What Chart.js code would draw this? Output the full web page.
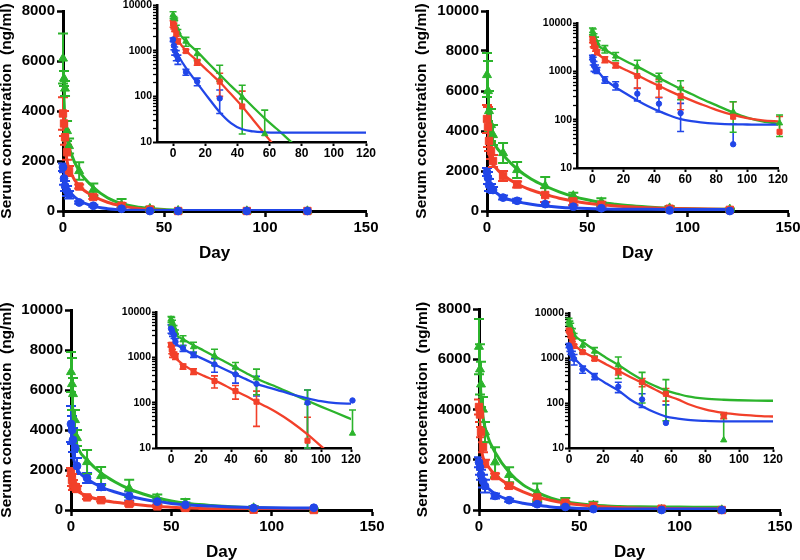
<!DOCTYPE html>
<html><head><meta charset="utf-8">
<script src="https://cdn.jsdelivr.net/npm/chart.js@4/dist/chart.umd.min.js"></script>
<style>
html,body{margin:0;padding:0;background:#fff;overflow:hidden;width:800px;height:560px;position:relative}
canvas{position:absolute}
</style></head><body>
<script>
// ---------- data ----------
const days = [0, 0.5, 1, 2, 3, 8, 15, 29, 43, 57, 91, 121];
const curveDays = [0, 1, 2, 4, 8, 15, 22, 29, 36, 43, 50, 57, 64, 70, 80, 91, 100, 110, 121];

const mainXTicks = [0, 50, 100, 150];
const p1YTicks = [0, 2000, 4000, 6000, 8000];
const p2YTicks = [0, 2000, 4000, 6000, 8000, 10000];
const p3YTicks = [0, 2000, 4000, 6000, 8000, 10000];
const p4YTicks = [0, 2000, 4000, 6000, 8000];
const insetXTicks = [0, 20, 40, 60, 80, 100, 120];
const logMajorTicks = [10, 100, 1000, 10000];

// Panel 1 (top-left)
const p1Green    = [6100, 5300, 4900, 3200, 2600, 1600, 850, 230, 95, 15, 0, 0];
const p1GreenErr = [1000, 300, 300, 400, 300, 350, 250, 250, 80, 35, 0, 0];
const p1Red      = [3900, 3500, 2950, 2350, 1600, 980, 560, 210, 60, 0, 0, 0];
const p1RedErr   = [650, 500, 300, 300, 200, 80, 80, 110, 70, 0, 0, 0];
const p1Blue     = [1750, 1300, 1000, 800, 650, 340, 210, 90, 0, 0, 0, 0];
const p1BlueErr  = [150, 250, 200, 200, 150, 50, 40, 48, 0, 0, 0, 0];
const p1GreenFit = [5500, 3600, 2900, 2300, 1600, 950, 530, 300, 170, 100, 57, 33, 20, 13, 6, 2.4, 1.2, 0.6, 0.25];
const p1RedFit   = [4000, 2700, 2000, 1500, 1000, 600, 350, 206, 112, 60, 30, 15, 7.5, 4.5, 2, 0.8, 0.4, 0.2, 0.1];
const p1BlueFit  = [1750, 1200, 950, 700, 420, 195, 92, 45, 26, 19, 17, 16.3, 16, 16, 16, 16, 16, 16, 16];

// Panel 2 (top-right)
const p2Green    = [6800, 6000, 5000, 4300, 3800, 2900, 2050, 1250, 760, 450, 145, 85];
const p2GreenErr = [1100, 1500, 1000, 800, 500, 500, 400, 450, 150, 190, 90, 40];
const p2Red      = [4600, 4200, 3500, 3000, 2500, 1750, 1330, 800, 480, 310, 115, 56];
const p2RedErr   = [700, 1000, 500, 400, 300, 250, 150, 350, 190, 150, 120, 60];
const p2Blue     = [1950, 1650, 1300, 1150, 1050, 670, 510, 345, 214, 137, 31, 0];
const p2BlueErr  = [200, 300, 300, 200, 150, 100, 100, 100, 70, 80, 50, 0];
const p2GreenFit = [6500, 4500, 3800, 3300, 2800, 2100, 1600, 1250, 960, 730, 560, 430, 340, 275, 200, 140, 110, 92, 82];
const p2RedFit   = [4500, 3000, 2500, 2200, 1800, 1350, 1050, 830, 640, 500, 390, 310, 250, 210, 160, 125, 108, 97, 92];
const p2BlueFit  = [1800, 1200, 1050, 950, 680, 470, 340, 250, 190, 150, 122, 103, 93, 88, 83, 80, 79.5, 79, 79];

// Panel 3 (bottom-left)
const p3Green    = [6900, 6300, 5800, 4500, 3600, 2400, 1700, 1080, 600, 350, 100, 21];
const p3GreenErr = [1000, 1300, 800, 500, 400, 600, 450, 430, 170, 200, 90, 48];
const p3Red      = [1900, 1500, 1250, 1150, 1050, 630, 490, 300, 180, 105, 14.5, 0];
const p3RedErr   = [200, 300, 250, 150, 150, 80, 70, 90, 60, 75, 33, 0];
const p3Blue     = [4300, 4000, 3500, 3100, 2200, 1600, 1150, 700, 420, 260, 100, 112];
const p3BlueErr  = [900, 700, 600, 500, 400, 250, 150, 230, 150, 120, 90, 0];
const p3GreenFit = [6800, 4800, 3700, 3000, 2500, 1850, 1400, 1050, 800, 600, 450, 340, 270, 225, 160, 110, 82, 60, 42];
const p3RedFit   = [1900, 1300, 1100, 900, 700, 500, 390, 310, 240, 180, 140, 105, 80, 62, 38, 20, 11, 5.5, 2.5];
const p3BlueFit  = [4300, 2800, 2300, 1900, 1550, 1150, 900, 700, 540, 420, 330, 260, 220, 195, 155, 125, 108, 98, 95];

// Panel 4 (bottom-right)
const p4Green    = [6500, 5600, 5000, 4000, 3100, 1900, 1400, 700, 290, 185, 15, 0];
const p4GreenErr = [1100, 1000, 900, 500, 400, 600, 300, 350, 190, 145, 40, 0];
const p4Red      = [4100, 3800, 3100, 2500, 1850, 1350, 960, 500, 290, 160, 53, 0];
const p4RedErr   = [300, 300, 200, 200, 150, 100, 80, 80, 60, 50, 8, 0];
const p4Blue     = [1900, 1700, 1400, 1150, 950, 560, 390, 230, 120, 36, 0, 0];
const p4BlueErr  = [200, 300, 200, 250, 250, 100, 60, 60, 40, 55, 0, 0];
const p4GreenFit = [6500, 4500, 3700, 3000, 2300, 1500, 1000, 700, 470, 330, 245, 190, 160, 140, 125, 118, 115, 113, 112];
const p4RedFit   = [4200, 2600, 2100, 1800, 1400, 1000, 720, 520, 380, 280, 205, 150, 120, 95, 72, 60, 55, 52, 50];
const p4BlueFit  = [1900, 1200, 1050, 900, 650, 400, 270, 190, 120, 85, 63, 50, 45, 42, 40, 39, 39, 39, 39];

// ---------- style ----------
const FONT = "'Liberation Sans', Arial, Helvetica, sans-serif";
const GREEN = '#2cb42c', RED = '#f2402a', BLUE = '#2146e8';
const yTitle = 'Serum concentration  (ng/ml)';
const xTitle = 'Day';

const errorBars = {
  id: 'errorBars',
  beforeDatasetsDraw(chart, args, opts) {
    const ctx = chart.ctx, xs = chart.scales.x, ys = chart.scales.y;
    const isLog = ys.type === 'logarithmic';
    chart.data.datasets.forEach(ds => {
      if (!ds.errors) return;
      ctx.save();
      ctx.strokeStyle = ds.borderColor; ctx.lineWidth = opts.width;
      ds.data.forEach((p, j) => {
        const e = ds.errors[j];
        if (p.y == null || !e) return;
        const px = xs.getPixelForValue(p.x);
        const py = ys.getPixelForValue(p.y);
        const top = ys.getPixelForValue(Math.min(p.y + e, ys.max));
        let lo = p.y - e, bottom = null, capLo = true;
        if (!isLog || lo > 0) {
          if (lo < ys.min) { lo = ys.min; capLo = false; }
          bottom = ys.getPixelForValue(lo);
        }
        const h = opts.cap / 2;
        ctx.beginPath();
        ctx.moveTo(px, top); ctx.lineTo(px, bottom == null ? py : bottom);
        ctx.moveTo(px - h, top); ctx.lineTo(px + h, top);
        if (bottom != null && capLo) { ctx.moveTo(px - h, bottom); ctx.lineTo(px + h, bottom); }
        ctx.stroke();
      });
      ctx.restore();
    });
  }
};

function makeCanvas(box) {
  const c = document.createElement('canvas');
  c.width = box[2]; c.height = box[3];
  c.style.left = box[0] + 'px'; c.style.top = box[1] + 'px';
  c.style.width = box[2] + 'px'; c.style.height = box[3] + 'px';
  document.body.appendChild(c);
  return c;
}

function pts(xs, ys, log) {
  return xs.map((x, i) => ({ x: x, y: (log && !(ys[i] > 0)) ? null : ys[i] }));
}

function makeDatasets(s, log) {
  const rC = log ? 2.7 : 3.9, rR = log ? 3.6 : 5.2, rT = log ? 3.6 : 5.2;
  const mk = (vals, err, color, style, r, order) => ({
    data: pts(days, vals, log), errors: err, borderColor: color, backgroundColor: color,
    pointStyle: style, pointRadius: r, pointBorderWidth: 1, showLine: false, clip: false, order: order
  });
  const fit = (vals, color, order) => ({
    data: pts(curveDays, vals, false), borderColor: color, backgroundColor: color,
    borderWidth: log ? 2.3 : 3, pointRadius: 0, showLine: true,
    cubicInterpolationMode: 'monotone', order: order
  });
  return [
    mk(s.blue, s.blueErr, BLUE, 'circle', rC, 1),
    mk(s.red, s.redErr, RED, 'rect', rR, 2),
    mk(s.green, s.greenErr, GREEN, 'triangle', rT, 3),
    fit(s.blueFit, BLUE, 4),
    fit(s.redFit, RED, 5),
    fit(s.greenFit, GREEN, 6)
  ];
}

function buildMain(box, area, yMax, yTicks, s, yTitleX, xTitleY) {
  const [bx, by, bw, bh] = box, [l, t, r, b] = area;
  const yW = l - bx, xH = by + bh - b;
  const tickFont = { family: FONT, weight: 'bold', size: 15 };
  new Chart(makeCanvas(box), {
    type: 'scatter',
    data: { datasets: makeDatasets(s, false) },
    options: {
      responsive: false, animation: false, devicePixelRatio: 1,
      layout: { padding: { left: 0, top: t - by, right: bx + bw - r, bottom: 0 } },
      plugins: { legend: { display: false }, tooltip: { enabled: false }, errorBars: { width: 2, cap: 10 } },
      scales: {
        x: {
          type: 'linear', min: 0, max: 150,
          afterBuildTicks: a => { a.ticks = mainXTicks.map(v => ({ value: v })); },
          afterFit: a => { a.height = xH; },
          border: { display: true, color: '#000', width: 3 },
          grid: { drawOnChartArea: false, drawTicks: true, tickLength: 6, tickWidth: 2.5, tickColor: '#000' },
          ticks: { font: tickFont, color: '#000', padding: 2, maxRotation: 0, autoSkip: false, callback: v => String(v) },
          title: { display: true, text: xTitle, color: '#000',
                   font: { family: FONT, weight: 'bold', size: 17, lineHeight: 1 },
                   padding: { top: 0, bottom: (by + bh - xTitleY) - 8.5 } }
        },
        y: {
          type: 'linear', min: 0, max: yMax,
          afterBuildTicks: a => { a.ticks = yTicks.map(v => ({ value: v })); },
          afterFit: a => { a.width = yW; },
          border: { display: true, color: '#000', width: 3 },
          grid: { drawOnChartArea: false, drawTicks: true, tickLength: 6, tickWidth: 2.5, tickColor: '#000' },
          ticks: { font: tickFont, color: '#000', padding: 2, autoSkip: false, callback: v => String(v) },
          title: { display: true, text: yTitle, color: '#000',
                   font: { family: FONT, weight: 'bold', size: 15.5, lineHeight: 1 },
                   padding: { top: (yTitleX - bx) - 7.75, bottom: 0 } }
        }
      }
    },
    plugins: [errorBars]
  });
}

function buildInset(box, area, xMin, s) {
  const [bx, by, bw, bh] = box, [l, t, r, b] = area;
  const yW = l - bx, xH = by + bh - b;
  const allLogTicks = [];
  for (let i = 0; i < logMajorTicks.length; i++) {
    allLogTicks.push(logMajorTicks[i]);
    if (i < logMajorTicks.length - 1) for (let m = 2; m <= 9; m++) allLogTicks.push(logMajorTicks[i] * m);
  }
  new Chart(makeCanvas(box), {
    type: 'scatter',
    data: { datasets: makeDatasets(s, true) },
    options: {
      responsive: false, animation: false, devicePixelRatio: 1,
      layout: { padding: { left: 0, top: t - by, right: bx + bw - r, bottom: 0 } },
      plugins: { legend: { display: false }, tooltip: { enabled: false }, errorBars: { width: 1.6, cap: 7 } },
      scales: {
        x: {
          type: 'linear', min: xMin, max: 120,
          afterBuildTicks: a => { a.ticks = insetXTicks.map(v => ({ value: v })); },
          afterFit: a => { a.height = xH; },
          border: { display: true, color: '#000', width: 2.5 },
          grid: { drawOnChartArea: false, drawTicks: true, tickLength: 4, tickWidth: 2, tickColor: '#000' },
          ticks: { font: { family: FONT, weight: 'bold', size: 12 }, color: '#000', padding: 0, maxRotation: 0, autoSkip: false, callback: v => String(v) }
        },
        y: {
          type: 'logarithmic', min: 10, max: 10000,
          afterBuildTicks: a => { a.ticks = allLogTicks.map(v => ({ value: v, major: logMajorTicks.includes(v) })); },
          afterFit: a => { a.width = yW; },
          border: { display: true, color: '#000', width: 2.5 },
          grid: { drawOnChartArea: false, drawTicks: true, tickLength: 4, tickColor: '#000',
                  tickWidth: c => (c.tick && logMajorTicks.includes(c.tick.value)) ? 2 : 1.3 },
          ticks: { font: { family: FONT, weight: 'bold', size: 10.5 }, color: '#000', padding: 1, autoSkip: false,
                   callback: v => logMajorTicks.includes(v) ? String(v) : '' }
        }
      }
    },
    plugins: [errorBars]
  });
}

const S1 = { green: p1Green, greenErr: p1GreenErr, red: p1Red, redErr: p1RedErr, blue: p1Blue, blueErr: p1BlueErr, greenFit: p1GreenFit, redFit: p1RedFit, blueFit: p1BlueFit };
const S2 = { green: p2Green, greenErr: p2GreenErr, red: p2Red, redErr: p2RedErr, blue: p2Blue, blueErr: p2BlueErr, greenFit: p2GreenFit, redFit: p2RedFit, blueFit: p2BlueFit };
const S3 = { green: p3Green, greenErr: p3GreenErr, red: p3Red, redErr: p3RedErr, blue: p3Blue, blueErr: p3BlueErr, greenFit: p3GreenFit, redFit: p3RedFit, blueFit: p3BlueFit };
const S4 = { green: p4Green, greenErr: p4GreenErr, red: p4Red, redErr: p4RedErr, blue: p4Blue, blueErr: p4BlueErr, greenFit: p4GreenFit, redFit: p4RedFit, blueFit: p4BlueFit };

buildMain([0, 0, 400, 280], [63, 11, 366, 211], 8000, p1YTicks, S1, 7, 253);
buildMain([400, 0, 420, 280], [487, 10, 788, 211], 10000, p2YTicks, S2, 422, 253);
buildMain([0, 280, 400, 280], [71, 310, 372, 510], 10000, p3YTicks, S3, 7, 552);
buildMain([400, 280, 420, 280], [479, 309, 780, 510], 8000, p4YTicks, S4, 423, 552);

buildInset([110, -10, 270, 180], [157, 5, 366, 142], -10, S1);
buildInset([530, 0, 265, 195], [577, 23, 778, 168], -10, S2);
buildInset([108, 295, 260, 180], [156, 312, 351, 448], -10, S3);
buildInset([520, 295, 270, 180], [569, 313, 773, 448], 0, S4);
</script>
</body></html>
